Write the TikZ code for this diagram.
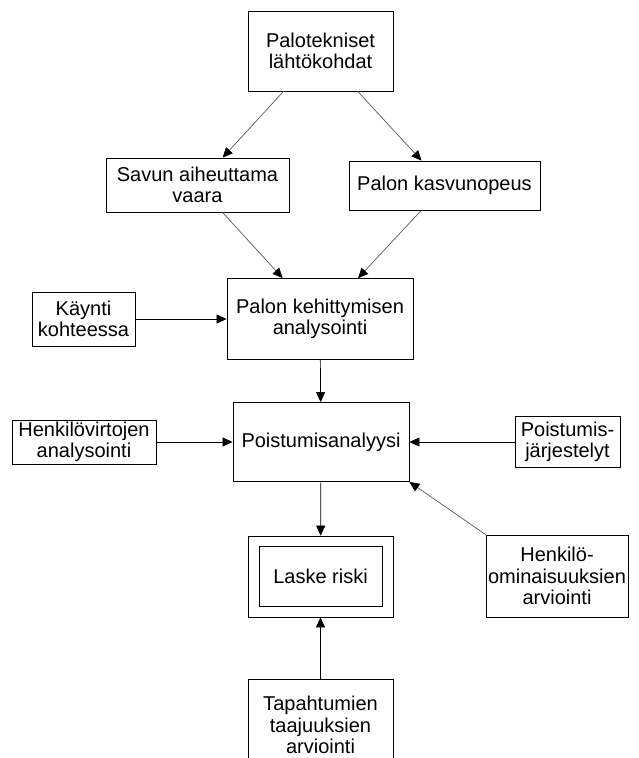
\documentclass[tikz,border=0pt]{standalone}
\usepackage{fontspec}
\setmainfont{Liberation Sans}
\usepackage{tikz}
\usetikzlibrary{arrows,arrows.meta,positioning,shapes}

\begin{document}
\begin{tikzpicture}[x=1pt,y=-1pt]
	\tikzset{box/.style={draw,rectangle,inner sep=0pt,align=center,line width=0.8pt,
		font=\fontsize{20}{21.5}\selectfont},
		flow/.style={-{Triangle[length=10pt,width=9pt,color=black]},line width=0.7pt},
		slant/.style={draw=black!65}}
	\clip (0,0) rectangle (638,758);
	\node[box,minimum width=145pt,minimum height=80pt] (lahto) at (320.5,51) {Palotekniset\\lähtökohdat};
	\node[box,minimum width=183pt,minimum height=54pt] (savu) at (197.5,185) {Savun aiheuttama\\vaara};
	\node[box,minimum width=191pt,minimum height=49pt] (kasvu) at (444.5,185.5) {Palon kasvunopeus};
	\node[box,minimum width=103pt,minimum height=54pt] (kaynti) at (83.5,319) {Käynti\\kohteessa};
	\node[box,minimum width=186pt,minimum height=81pt] (kehitys) at (320,319) {Palon kehittymisen\\analysointi};
	\node[box,minimum width=144pt,minimum height=44pt] (virrat) at (84,442) {Henkilövirtojen\\analysointi};
	\node[box,minimum width=176pt,minimum height=79pt] (poistuminen) at (321,442) {Poistumisanalyysi};
	\node[box,minimum width=105pt,minimum height=51pt] (jarj) at (567.5,442) {Poistumis-\\järjestelyt};
	\node[box,minimum width=145pt,minimum height=81pt] (riski) at (320.5,576.5) {};
	\node[box,minimum width=123pt,minimum height=60pt] (riskin) at (320.5,576.5) {Laske riski};
	\node[box,minimum width=142pt,minimum height=82pt] (ominaisuus) at (557,576) {Henkilö-\\ominaisuuksien\\arviointi};
	\node[box,minimum width=145pt,minimum height=92pt] (taajuus) at (320.5,725) {Tapahtumien\\taajuuksien\\arviointi};
	\path[flow]
		(lahto) edge[slant] node {} (savu)
		(lahto) edge[slant] node {} (kasvu)
		(savu) edge[slant] node {} (kehitys)
		(kasvu) edge[slant] node {} (kehitys)
		(kaynti) edge node {} (kehitys)
		(kehitys) edge node {} (poistuminen)
		(virrat) edge node {} (poistuminen)
		(jarj) edge node {} (poistuminen)
		(poistuminen) edge node {} (riski)
		(ominaisuus.north west) edge[slant] node {} (poistuminen.south east)
		(taajuus) edge node {} (riski);
\end{tikzpicture}
\end{document}
